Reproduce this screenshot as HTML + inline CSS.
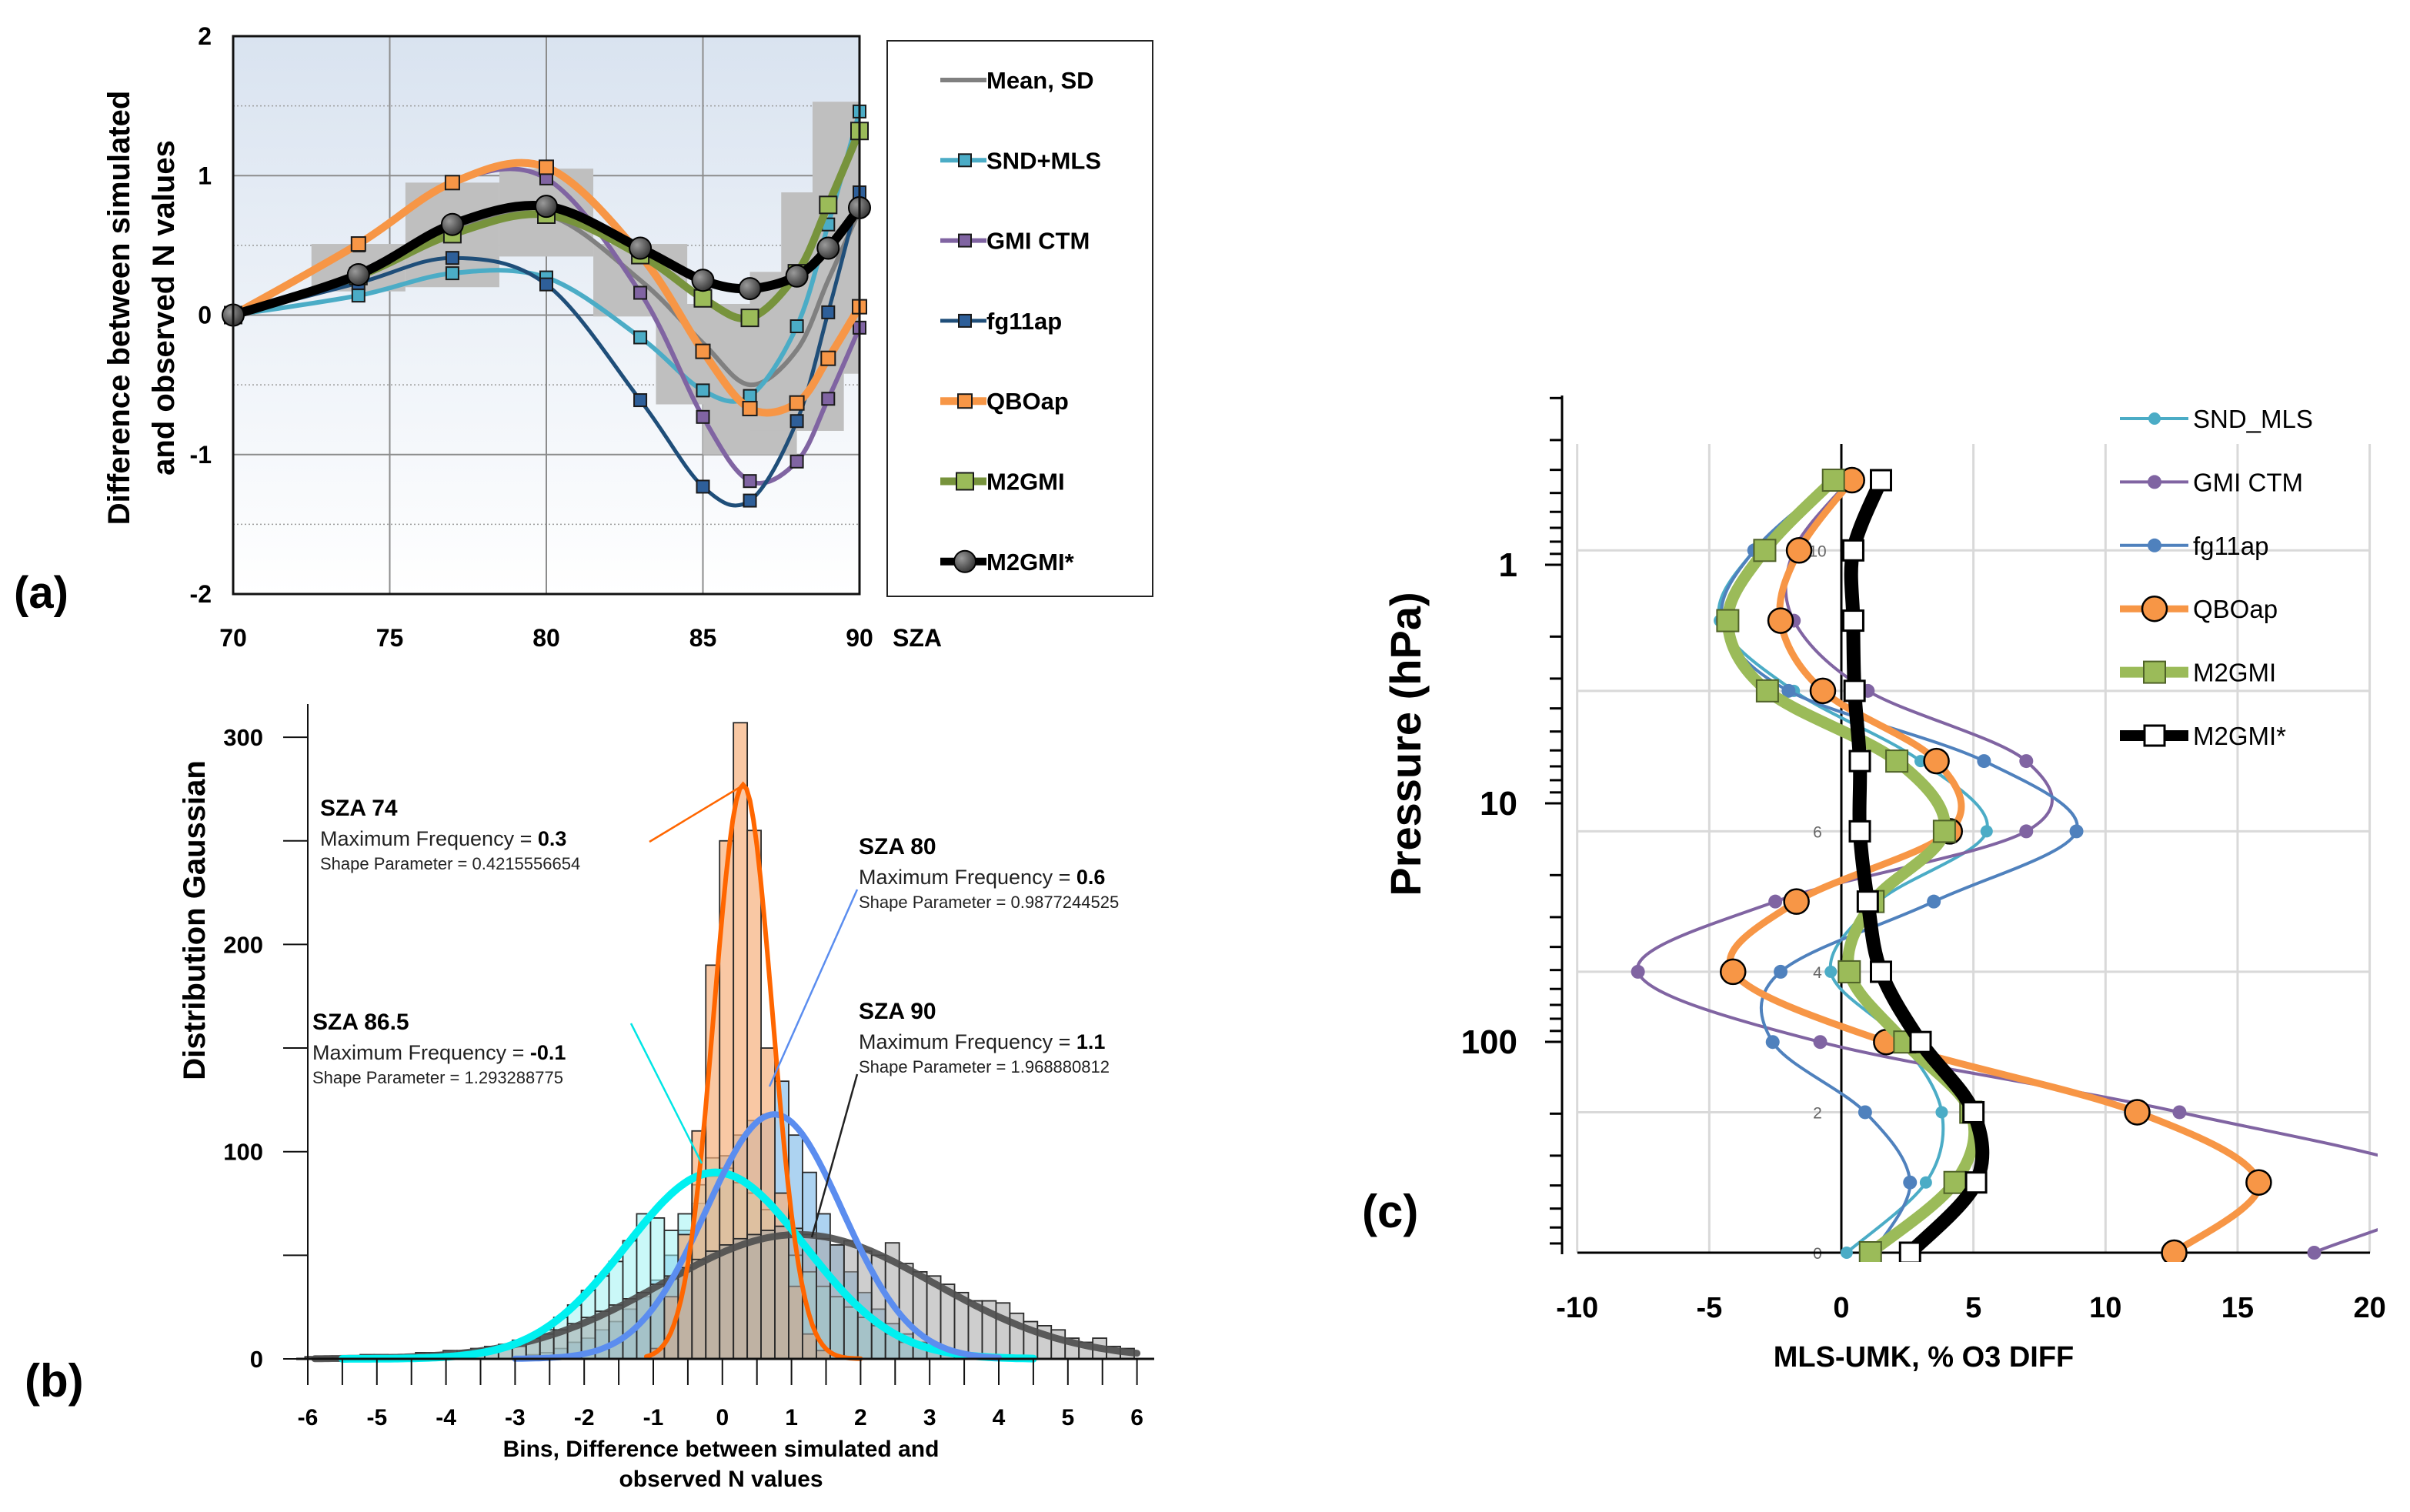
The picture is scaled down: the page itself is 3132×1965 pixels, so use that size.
<!DOCTYPE html>
<html><head><meta charset="utf-8"><style>
html,body{margin:0;padding:0;background:#fff}
svg{display:block}
text{font-family:"Liberation Sans",sans-serif}
.nar{font-family:"Liberation Sans Narrow","Liberation Sans",sans-serif}
</style></head><body>
<svg id="chart" width="3132" height="1965" viewBox="0 0 3132 1965" xmlns="http://www.w3.org/2000/svg">
<defs>
<linearGradient id="bgA" x1="0" y1="0" x2="0" y2="1"><stop offset="0" stop-color="#d9e3f0"/><stop offset="1" stop-color="#ffffff"/></linearGradient>
<radialGradient id="ballG" cx="0.35" cy="0.35" r="0.7"><stop offset="0" stop-color="#9a9a9a"/><stop offset="1" stop-color="#333"/></radialGradient>
<clipPath id="clipA"><rect x="303" y="47" width="814" height="725"/></clipPath>
<clipPath id="clipC"><rect x="2040" y="560" width="1050" height="1080"/></clipPath>
</defs>
</svg>
<script>
// ---------- Panel (a) data ----------
const szaX=[70,74,77,80,83,85,86.5,88,89,90];
const meanV=[0,0.28,0.6,0.72,0.25,-0.2,-0.5,-0.25,0.25,0.75];
const sdHi=[0,0.51,0.95,1.05,0.51,0.08,0.08,0.31,0.88,1.53];
const sdLo=[0,0.17,0.2,0.42,-0.01,-0.64,-1.0,-0.83,-0.42,-0.42];
const sndMls=[0,0.14,0.30,0.27,-0.16,-0.54,-0.58,-0.08,0.65,1.46];
const gmiCtm=[0,0.5,0.95,0.98,0.16,-0.73,-1.19,-1.05,-0.6,-0.09];
const fg11ap=[0,0.23,0.41,0.22,-0.61,-1.23,-1.33,-0.76,0.02,0.88];
const qboAp=[0,0.51,0.95,1.06,0.43,-0.26,-0.67,-0.63,-0.31,0.06];
const m2gmi=[0,0.28,0.58,0.72,0.43,0.12,-0.02,0.3,0.79,1.32];
const m2gmiStar=[0,0.29,0.65,0.78,0.48,0.25,0.19,0.28,0.48,0.77];
const aXTicks=[70,75,80,85,90];
const aYTicks=[-2,-1,0,1,2];
const aLegendLabels=["Mean, SD","SND+MLS","GMI CTM","fg11ap","QBOap","M2GMI","M2GMI*"];

// ---------- Panel (b) data ----------
const binStart=-6.04, binW=0.2;
const histOrange=[0,0,0,0,0,0,0,0,0,0, 0,0,0,0,0,0,0,0,0,0, 0,0,0,0,0,5,30,60,110,190, 250,307,255,150,80,35,12,4,0,0, 0,0,0,0,0,0,0,0,0,0, 0,0,0,0,0,0,0,0,0,0];
const histCyan=[0,0,0,0,2,2,1,1,1,1, 2,2,3,4,5,6,10,14,20,26, 33,40,47,57,70,68,62,70,84,97, 92,85,80,72,60,50,42,35,30,25, 20,16,12,8,6,4,3,2,2,1, 1,0,0,0,0,0,0,0,0,0];
const histBlue=[0,0,0,0,0,0,0,0,0,0, 0,0,0,0,0,1,2,3,5,8, 10,14,18,24,30,38,50,62,75,88, 98,108,115,118,134,108,90,70,55,42, 32,24,17,12,8,5,3,2,1,1, 0,0,0,0,0,0,0,0,0,0];
const histGray=[1,1,1,1,2,2,2,2,3,3, 4,4,5,6,7,9,10,12,14,17, 20,23,26,29,32,36,40,44,48,52, 55,58,60,62,64,63,60,58,55,57, 52,50,56,46,42,40,36,32,28,28, 27,22,18,16,14,10,8,10,6,5];
const fitMu=[0.3,-0.1,0.75,1.1];
const fitSd=[0.4215556654,1.293288775,0.9877244525,1.968880812];
const fitPeak=[277,90,118,60];
const fitFrom=[-1.1,-5.5,-3.0,-5.9];
const fitTo=[2.0,4.5,4.0,6.0];
const bXTicks=[-6,-5,-4,-3,-2,-1,0,1,2,3,4,5,6];
const bYTicks=[0,100,200,300];

// ---------- Panel (c) data ----------
const levels=[0,1,2,3,4,5,6,7,8,9,10,11];
const sndC=[0.2,3.2,3.8,2.3,-0.4,1.4,5.5,3.0,-1.8,-4.6,-3.3,-0.3];
const gmiC=[17.9,23,12.8,-0.8,-7.7,-2.5,7.0,7.0,1.0,-1.8,-1.8,0.3];
const fgC=[1.2,2.6,0.9,-2.6,-2.3,3.5,8.9,5.4,-2.0,-4.5,-3.3,-0.3];
const qboC=[12.6,15.8,11.2,1.7,-4.1,-1.7,4.1,3.6,-0.7,-2.3,-1.6,0.4];
const m2gmiC=[1.1,4.3,4.9,2.4,0.3,1.2,3.9,2.1,-2.8,-4.3,-2.9,-0.3];
const starC=[2.6,5.1,5.0,3.0,1.5,1.0,0.7,0.7,0.5,0.45,0.45,1.5];
const cXTicks=[-10,-5,0,5,10,15,20];
const cLevelLabels=[0,2,4,6,8,10];
const cPressLabels=[1,10,100];
const cLegendLabels=["SND_MLS","GMI CTM","fg11ap","QBOap","M2GMI","M2GMI*"];

// ---------- helpers ----------
const NS='http://www.w3.org/2000/svg';
const svg=document.getElementById('chart');
function mk(tag,attrs,parent){const e=document.createElementNS(NS,tag);for(const k in attrs)e.setAttribute(k,attrs[k]);(parent||svg).appendChild(e);return e;}
function txt(s,attrs,parent){const e=mk('text',attrs,parent);e.textContent=s;return e;}
function spline(p){let d='M'+p[0][0].toFixed(1)+','+p[0][1].toFixed(1);
 for(let i=0;i<p.length-1;i++){const p0=p[i-1]||p[i],p1=p[i],p2=p[i+1],p3=p[i+2]||p2;
  const c1=[p1[0]+(p2[0]-p0[0])/6,p1[1]+(p2[1]-p0[1])/6],c2=[p2[0]-(p3[0]-p1[0])/6,p2[1]-(p3[1]-p1[1])/6];
  d+=' C'+c1.map(v=>v.toFixed(1))+' '+c2.map(v=>v.toFixed(1))+' '+p2.map(v=>v.toFixed(1));}
 return d;}

// ================= Panel (a) =================
const ax=v=>303+(v-70)*(814/20);
const ay=v=>409.5-v*181.25;
const gA=mk('g',{});


let el=mk('rect',{x:303,y:47,width:814,height:725,fill:'url(#bgA)'},gA);


[-1.5,-0.5,0.5,1.5].forEach(v=>{const l=mk('line',{x1:303,x2:1117,y1:ay(v),y2:ay(v),stroke:'#9a9a9a','stroke-width':1.5,'stroke-dasharray':'2,3'},gA);
 
 });
aYTicks.forEach(v=>{const l=mk('line',{x1:303,x2:1117,y1:ay(v),y2:ay(v),stroke:'#8c8c8c','stroke-width':2},gA);
 
 
 const t=txt(String(v),{x:275,y:ay(v)+11,'text-anchor':'end','font-size':32,'font-weight':'bold',class:'nar'},gA);
 
 });
aXTicks.forEach(v=>{const l=mk('line',{x1:ax(v),x2:ax(v),y1:47,y2:772,stroke:'#8c8c8c','stroke-width':2},gA);
 
 
 const t=txt(String(v),{x:ax(v),y:840,'text-anchor':'middle','font-size':32,'font-weight':'bold',class:'nar'},gA);
 
 });
const gBox=mk('g',{'clip-path':'url(#clipA)'},gA);
szaX.forEach((s,i)=>{if(i===0)return;const x0=Math.max(70,s-1.5),x1=Math.min(90,s+1.5);
 const r=mk('rect',{x:ax(x0),y:ay(sdHi[i]),width:ax(x1)-ax(x0),height:ay(sdLo[i])-ay(sdHi[i]),fill:'#bfbfbf'},gBox);
 
 });
const aSeries=[
 {v:meanV,c:'#808080',w:6,m:null,n:'mean-line'},
 {v:sndMls,c:'#4bacc6',w:6,m:'sq',mf:'#4bacc6',ms:16,n:'snd-mls-line'},
 {v:gmiCtm,c:'#8064a2',w:6,m:'sq',mf:'#8064a2',ms:16,n:'gmi-ctm-line'},
 {v:fg11ap,c:'#1f4e79',w:5,m:'sq',mf:'#2e5f99',ms:16,n:'fg11ap-line'},
 {v:qboAp,c:'#f79646',w:10,m:'sq',mf:'#f79646',ms:18,n:'qboap-line'},
 {v:m2gmi,c:'#77933c',w:10,m:'sq',mf:'#9bbb59',ms:22,n:'m2gmi-line'},
 {v:m2gmiStar,c:'#000',w:12,m:'ball',ms:28,n:'m2gmi-star-line'}];
aSeries.forEach(s=>{const pts=szaX.map((x,i)=>[ax(x),ay(s.v[i])]);
 const p=mk('path',{d:spline(pts),fill:'none',stroke:s.c,'stroke-width':s.w,'stroke-linejoin':'round'},gA);
 
 
 if(s.m)pts.forEach(q=>{let m;
  if(s.m==='sq')m=mk('rect',{x:q[0]-s.ms/2,y:q[1]-s.ms/2,width:s.ms,height:s.ms,fill:s.mf,stroke:'#1a1a1a','stroke-width':2},gA);
  else m=mk('circle',{cx:q[0],cy:q[1],r:s.ms/2,fill:'url(#ballG)',stroke:'#000','stroke-width':2},gA);
  
  });});
el=mk('rect',{x:303,y:47,width:814,height:725,fill:'none',stroke:'#111','stroke-width':3},gA);


el=txt('SZA',{x:1160,y:840,'font-size':32,'font-weight':'bold',class:'nar'},gA);


el=txt('Difference between simulated',{x:0,y:0,'text-anchor':'middle','font-size':40,'font-weight':'bold',transform:'translate(168,400) rotate(-90)'},gA);


el=txt('and observed N values',{x:0,y:0,'text-anchor':'middle','font-size':40,'font-weight':'bold',transform:'translate(226,400) rotate(-90)'},gA);


el=txt('(a)',{x:18,y:790,'font-size':58,'font-weight':'bold',class:'nar'},gA);


// legend a
const gLa=mk('g',{},gA);


el=mk('rect',{x:1153,y:53,width:345,height:722,fill:'#fff',stroke:'#222','stroke-width':2},gLa);


aLegendLabels.forEach((lab,i)=>{const y=104+i*104.3,s=aSeries[i];
 const l=mk('line',{x1:1222,x2:1282,y1:y,y2:y,stroke:s.c,'stroke-width':Math.min(s.w,10)},gLa);
 
 
 if(s.m==='sq'){const m=mk('rect',{x:1252-s.ms/2+2,y:y-s.ms/2,width:s.ms,height:s.ms,fill:s.mf,stroke:'#1a1a1a','stroke-width':2},gLa);
  
  }
 if(s.m==='ball'){const m=mk('circle',{cx:1254,cy:y,r:14,fill:'url(#ballG)',stroke:'#000','stroke-width':2},gLa);
  
  }
 const t=txt(lab,{x:1282,y:y+11,'font-size':31,'font-weight':'bold',class:'nar'},gLa);
 
 });

// ================= Panel (b) =================
const bx=v=>400+(v+6)*89.8;
const by=v=>1766-v*2.693;
const gB=mk('g',{});


const hists=[[histBlue,'#6aaee6',0.55,'hist-sza80'],[histCyan,'#9ff3f3',0.55,'hist-sza86-5'],[histOrange,'#f6b07e',0.7,'hist-sza74'],[histGray,'#a6a6a6',0.55,'hist-sza90']];
hists.forEach(h=>{const g=mk('g',{},gB);
 
 
 h[0].forEach((v,k)=>{if(v<=0)return;const x0=binStart+k*binW;
  const r=mk('rect',{x:bx(x0),y:by(v),width:bx(x0+binW)-bx(x0),height:by(0)-by(v),fill:h[1],'fill-opacity':h[2],stroke:'#2a2a2a','stroke-width':1.8},g);
  
  });});
const fitCol=['#ff6600','#00f0f0','#5b8def','#4d4d4d'];
const fitW=[6,10,8,9];
const fitNames=['fit-sza74','fit-sza86-5','fit-sza80','fit-sza90'];
[3,1,2,0].forEach(i=>{const pts=[];for(let x=fitFrom[i];x<=fitTo[i]+1e-9;x+=0.05){pts.push([bx(x),by(fitPeak[i]*Math.exp(-((x-fitMu[i])**2)/(2*fitSd[i]**2)))]);}
 const d='M'+pts.map(p=>p[0].toFixed(1)+','+p[1].toFixed(1)).join(' L');
 const p=mk('path',{d:d,fill:'none',stroke:fitCol[i],'stroke-width':fitW[i],'stroke-linecap':'round','stroke-opacity':i===3?0.9:1},gB);
 
 });
el=mk('line',{x1:385,x2:1500,y1:1766,y2:1766,stroke:'#111','stroke-width':3},gB);


el=mk('line',{x1:400,x2:400,y1:915,y2:1800,stroke:'#111','stroke-width':2},gB);


for(let v=-6;v<=6;v+=0.5){const l=mk('line',{x1:bx(v),x2:bx(v),y1:1766,y2:1800,stroke:'#111','stroke-width':2},gB);
 
 }
for(let v=0;v<=300;v+=50){const l=mk('line',{x1:368,x2:400,y1:by(v),y2:by(v),stroke:'#111','stroke-width':2},gB);
 
 }
bXTicks.forEach(v=>{const t=txt(String(v),{x:bx(v),y:1852,'text-anchor':'middle','font-size':30,'font-weight':'bold'},gB);
 
 });
bYTicks.forEach(v=>{const t=txt(String(v),{x:342,y:by(v)+11,'text-anchor':'end','font-size':31,'font-weight':'bold'},gB);
 
 });
el=txt('Bins, Difference between simulated and',{x:937,y:1893,'text-anchor':'middle','font-size':30,'font-weight':'bold'},gB);


el=txt('observed N values',{x:937,y:1932,'text-anchor':'middle','font-size':30,'font-weight':'bold'},gB);


el=txt('Distribution Gaussian',{x:0,y:0,'text-anchor':'middle','font-size':40,'font-weight':'bold',transform:'translate(266,1196) rotate(-90)'},gB);


el=txt('(b)',{x:32,y:1815,'font-size':60,'font-weight':'bold',class:'nar'},gB);


const ann=[
 {x:416,y:1060,t:'SZA 74',mf:'0.3',sp:'0.4215556654',lc:'#ff6600',l:[844,1094,960,1024]},
 {x:1116,y:1110,t:'SZA 80',mf:'0.6',sp:'0.9877244525',lc:'#5b8def',l:[1114,1156,1000,1412]},
 {x:406,y:1338,t:'SZA 86.5',mf:'-0.1',sp:'1.293288775',lc:'#00e5e5',l:[820,1330,912,1512]},
 {x:1116,y:1324,t:'SZA 90',mf:'1.1',sp:'1.968880812',lc:'#222',l:[1114,1396,1055,1608]}];
ann.forEach(a=>{const g=mk('g',{},gB);
 
 
 const l=mk('line',{x1:a.l[0],y1:a.l[1],x2:a.l[2],y2:a.l[3],stroke:a.lc,'stroke-width':2.5},g);
 
 
 let t=txt(a.t,{x:a.x,y:a.y,'font-size':30,'font-weight':'bold'},g);
 
 
 t=txt('Maximum Frequency = ',{x:a.x,y:a.y+39,'font-size':27,fill:'#222'},g);
 
 
 const b=mk('tspan',{'font-weight':'bold',fill:'#000'},t);b.textContent=a.mf;
 t=txt('Shape Parameter = '+a.sp,{x:a.x,y:a.y+70,'font-size':22,fill:'#222'},g);
 
 });

// ================= Panel (c) =================
const cx=v=>2393+v*34.33;
const cy=l=>1628-l*91.27;
const gC=mk('g',{});


cXTicks.forEach(v=>{const l=mk('line',{x1:cx(v),x2:cx(v),y1:577,y2:1628,stroke:'#d9d9d9','stroke-width':3},gC);
 
 
 const t=txt(String(v),{x:cx(v),y:1712,'text-anchor':'middle','font-size':38,'font-weight':'bold'},gC);
 
 });
cLevelLabels.forEach(v=>{const l=mk('line',{x1:2050,x2:3080,y1:cy(v),y2:cy(v),stroke:'#d9d9d9','stroke-width':3},gC);
 
 
 const t=txt(String(v),{x:2362,y:cy(v)+8,'text-anchor':'middle','font-size':21,fill:'#666'},gC);
 
 });
el=mk('line',{x1:cx(0),x2:cx(0),y1:577,y2:1628,stroke:'#000','stroke-width':3},gC);


el=mk('line',{x1:2050,x2:3080,y1:1628,y2:1628,stroke:'#000','stroke-width':3},gC);


el=mk('line',{x1:2030,x2:2030,y1:514,y2:1630,stroke:'#000','stroke-width':3},gC);


const py=p=>734+310*Math.log10(p);
[0.1,1,10,100].forEach(dec=>{for(let m=1;m<10;m++){const y=py(dec*m);if(y<514||y>1630)continue;
 const l=mk('line',{x1:m===1?2008:2014,x2:2030,y1:y,y2:y,stroke:'#000','stroke-width':3},gC);
 
 }});
cPressLabels.forEach(p=>{const t=txt(String(p),{x:1972,y:py(p)+15,'text-anchor':'end','font-size':44,'font-weight':'bold'},gC);
 
 });
el=txt('Pressure (hPa)',{x:0,y:0,'text-anchor':'middle','font-size':56,'font-weight':'bold',transform:'translate(1846,967) rotate(-90)'},gC);


el=txt('MLS-UMK, % O3 DIFF',{x:2500,y:1776,'text-anchor':'middle','font-size':38,'font-weight':'bold'},gC);


el=txt('(c)',{x:1770,y:1595,'font-size':60,'font-weight':'bold',class:'nar'},gC);


const cSeries=[
 {v:sndC,c:'#4bacc6',w:4,m:'dot',r:8,n:'snd-mls-profile'},
 {v:gmiC,c:'#8064a2',w:4,m:'dot',r:9,n:'gmi-ctm-profile'},
 {v:fgC,c:'#4f81bd',w:4,m:'dot',r:9,n:'fg11ap-profile'},
 {v:qboC,c:'#f79646',w:9,m:'circ',r:16,n:'qboap-profile'},
 {v:m2gmiC,c:'#9bbb59',w:15,m:'sq',r:14,n:'m2gmi-profile'},
 {v:starC,c:'#000',w:18,m:'open',r:13,n:'m2gmi-star-profile'}];
const gCs=mk('g',{'clip-path':'url(#clipC)'},gC);
cSeries.forEach(s=>{const pts=levels.map(l=>[cx(s.v[l]),cy(l)]);
 const p=mk('path',{d:spline(pts),fill:'none',stroke:s.c,'stroke-width':s.w,'stroke-linejoin':'round'},gCs);
 
 
 pts.forEach((q,i)=>{if(s.v[i]>20||s.v[i]<-10)return;let m;
  if(s.m==='dot')m=mk('circle',{cx:q[0],cy:q[1],r:s.r,fill:s.c},gCs);
  else if(s.m==='circ')m=mk('circle',{cx:q[0],cy:q[1],r:s.r,fill:s.c,stroke:'#000','stroke-width':2.5},gCs);
  else if(s.m==='sq')m=mk('rect',{x:q[0]-s.r,y:q[1]-s.r,width:2*s.r,height:2*s.r,fill:s.c,stroke:'#4f6228','stroke-width':2},gCs);
  else m=mk('rect',{x:q[0]-s.r,y:q[1]-s.r,width:2*s.r,height:2*s.r,fill:'#fff',stroke:'#000','stroke-width':3},gCs);
  
  });});
const gLc=mk('g',{},gC);


cLegendLabels.forEach((lab,i)=>{const y=544+i*82.4,s=cSeries[i];
 const l=mk('line',{x1:2755,x2:2844,y1:y,y2:y,stroke:s.c,'stroke-width':Math.min(s.w,14)},gLc);
 
 
 let m;const mx=2800;
 if(s.m==='dot')m=mk('circle',{cx:mx,cy:y,r:s.r,fill:s.c},gLc);
 else if(s.m==='circ')m=mk('circle',{cx:mx,cy:y,r:s.r,fill:s.c,stroke:'#000','stroke-width':2.5},gLc);
 else if(s.m==='sq')m=mk('rect',{x:mx-s.r,y:y-s.r,width:2*s.r,height:2*s.r,fill:s.c,stroke:'#4f6228','stroke-width':2},gLc);
 else m=mk('rect',{x:mx-s.r,y:y-s.r,width:2*s.r,height:2*s.r,fill:'#fff',stroke:'#000','stroke-width':3},gLc);
 
 
 const t=txt(lab,{x:2850,y:y+12,'font-size':33},gLc);
 
 });
</script>
</body></html>
